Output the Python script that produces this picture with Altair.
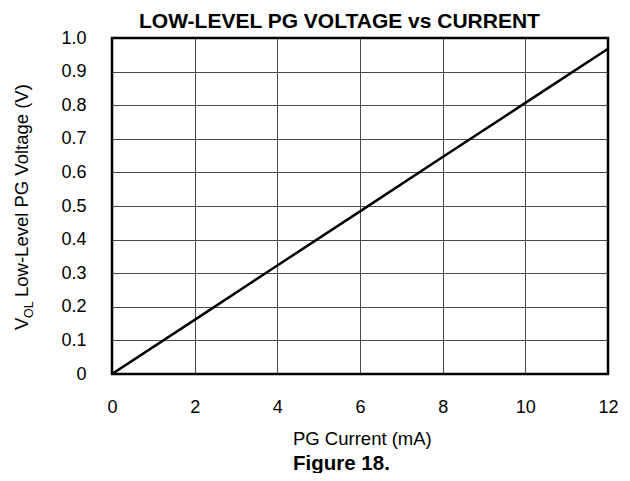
import altair as alt
import pandas as pd

# ---- data ----
current_ma = [0, 2, 4, 6, 8, 10, 12]
voltage_v = [0.0, 0.161, 0.323, 0.484, 0.646, 0.807, 0.968]
x_ticks = [0, 2, 4, 6, 8, 10, 12]
y_ticks = [0.0, 0.1, 0.2, 0.3, 0.4, 0.5, 0.6, 0.7, 0.8, 0.9, 1.0]
title_text = "LOW-LEVEL PG VOLTAGE vs CURRENT"
x_title = "PG Current (mA)"
y_title_main = "V"
y_title_sub = "OL"
y_title_rest = "Low-Level PG Voltage (V)"
caption = "Figure 18."

W, H = 496, 336
FONT = "Liberation Sans"

df = pd.DataFrame({"current": current_ma, "voltage": voltage_v})

line = alt.Chart(df).mark_line(color="black", strokeWidth=2.5, clip=True).encode(
    x=alt.X(
        "current:Q",
        scale=alt.Scale(domain=[0, 12], nice=False, zero=False),
        axis=alt.Axis(
            values=x_ticks, title=None, grid=True, ticks=False, domain=False,
            labelPadding=24, labelFontSize=18, labelFont=FONT, labelColor="black",
            labelFlush=False, gridColor="#4a4a4a", gridWidth=1, format="d",
        ),
    ),
    y=alt.Y(
        "voltage:Q",
        scale=alt.Scale(domain=[0, 1], nice=False),
        axis=alt.Axis(
            values=y_ticks, title=None, grid=True, ticks=False, domain=False,
            labelPadding=26, labelFontSize=18, labelFont=FONT, labelColor="black",
            labelFlush=False, gridColor="#4a4a4a", gridWidth=1,
            labelExpr="datum.value == 0 ? '0' : format(datum.value, '.1f')",
        ),
    ),
)

frame = alt.Chart(alt.Data(values=[{"f": 1}])).mark_rect(
    fill="transparent", stroke="black", strokeWidth=2.5
).encode(x=alt.value(0), x2=alt.value(W), y=alt.value(0), y2=alt.value(H))


def txt(s, x, y, size, bold=False, angle=0, align="left"):
    kw = dict(align=align, baseline="alphabetic", fontSize=size, font=FONT,
              color="black", fontWeight="bold" if bold else "normal")
    if angle:
        kw["angle"] = angle
    return alt.Chart(alt.Data(values=[{"t": s}])).mark_text(**kw).encode(
        text="t:N", x=alt.value(x), y=alt.value(y)
    )


layers = [
    line,
    frame,
    txt(title_text, 27, -10, 21, bold=True),
    txt(x_title, 181, 407, 18.5),
    txt(caption, 181, 432, 20.5, bold=True),
    txt(y_title_main, -84, 292, 18.5, angle=270),
    txt(y_title_sub, -79, 280, 12.5, angle=270),
    txt(y_title_rest, -84, 259, 18.5, angle=270),
]

chart = alt.layer(*layers).properties(
    width=W,
    height=H,
    padding={"left": 104, "top": 30, "right": 10, "bottom": 99},
    autosize=alt.AutoSizeParams(type="none"),
).configure_view(strokeWidth=0).configure(background="white")

chart.save("out.html", embed_options={"renderer": "svg", "actions": False})
